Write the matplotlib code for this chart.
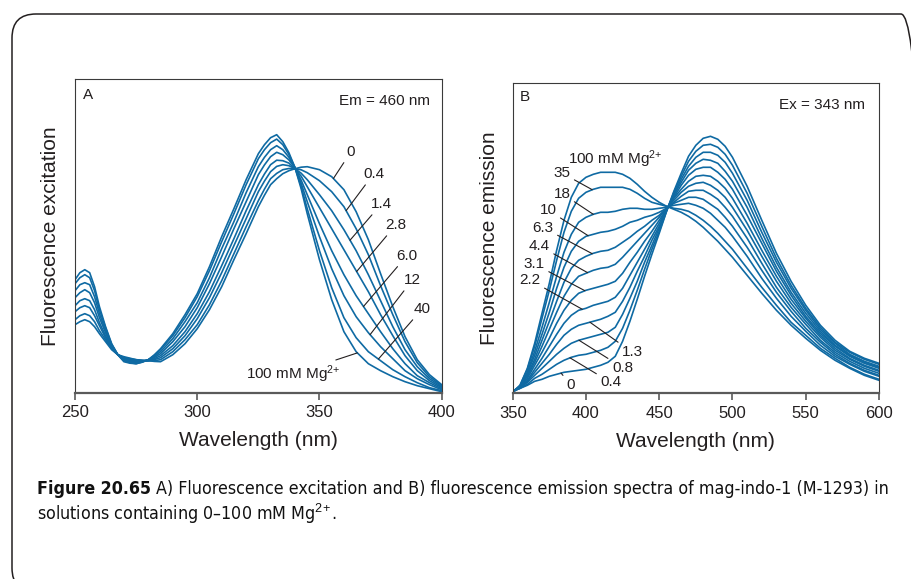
import numpy as np
import matplotlib.pyplot as plt
from matplotlib.patches import FancyBboxPatch
from matplotlib.transforms import IdentityTransform

plt.rcParams['font.family'] = ['Liberation Sans', 'DejaVu Sans']
plt.rcParams['mathtext.fontset'] = 'custom'
plt.rcParams['mathtext.rm'] = 'Liberation Sans'
plt.rcParams['mathtext.it'] = 'Liberation Sans:italic'
plt.rcParams['mathtext.bf'] = 'Liberation Sans:bold'

LINE = '#0f6aa3'
INK = '#231f20'

# ---- panel A: excitation spectra (Em = 460 nm) ----
exc_wl = [250, 252, 254, 256, 258, 260, 262.5, 265, 267.5, 270, 272.5, 275, 277.5, 280, 282.5, 285,
          290, 295, 300, 305, 310, 315, 320, 325, 327.5, 330, 332.5, 335, 337.5, 340, 342.5, 345,
          350, 355, 360, 365, 370, 375, 380, 385, 390, 395, 400]
exc_mg = ['0', '0.4', '1.4', '2.8', '6.0', '12', '40', '100']
exc_0 = [68, 71, 73, 71, 66, 59, 51, 43, 38, 36, 34.5, 33, 32.5, 32, 31.3, 31,
         38, 49, 64, 83, 106, 133, 159, 186, 197.5, 208, 214, 219, 222, 224, 225.5, 226,
         223, 216, 203, 181, 153, 119, 86, 56, 33, 18, 8]
exc_04 = [73, 77, 79, 77, 71, 62, 53, 44, 38, 35, 34, 33, 32.3, 32, 32.1, 33,
          41, 53, 68, 88, 112, 139, 166, 192, 203.6, 214, 219.3, 223, 224.2, 224, 222.9, 220,
          212, 201, 186, 164, 138, 107, 78, 51, 30, 16, 7]
exc_14 = [81, 85, 87, 85, 77, 67, 55, 45, 38, 35, 33, 32, 31.9, 32, 33.2, 35,
          44, 57, 74, 95, 120, 147, 174, 201, 211.6, 221, 226.3, 228, 227, 224, 219.5, 213,
          198, 182, 163, 142, 118, 92, 66, 43, 26, 14, 6]
exc_28 = [87, 92, 94, 92, 83, 70, 57, 46, 38, 34, 32.4, 31, 31.7, 32, 34.1, 37,
          47, 61, 79, 101, 127, 154, 182, 208, 218.7, 228, 232.5, 232, 229.6, 224, 216.5, 206,
          185, 164, 143, 122, 101, 78, 57, 37, 22, 12, 5]
exc_60 = [95, 100, 103, 100, 90, 75, 60, 47, 38, 33, 31.5, 31, 31.3, 33, 35.3, 39,
          51, 66, 85, 109, 136, 164, 191, 218, 227.8, 236, 240.4, 238, 232.8, 225, 212.6, 198,
          169, 142, 118, 97, 79, 61, 44, 29, 17, 10, 4]
exc_12 = [102, 108, 110, 108, 96, 79, 62, 48, 38, 32, 31, 30, 31, 33, 36.3, 41,
          54, 71, 90, 115, 144, 171, 200, 226, 235.4, 243, 247, 243, 235.5, 225, 209.4, 191,
          156, 124, 97, 76, 60, 46, 34, 22, 14, 8, 3]
exc_40 = [109, 115, 118, 115, 102, 83, 65, 48, 38, 32, 30, 29, 30.7, 33, 37.3, 43,
          57, 75, 96, 122, 151, 179, 208, 234, 243, 250, 253.6, 248, 238.2, 225, 206.2, 184,
          142, 105, 75, 55, 41, 32, 23, 16, 10, 5, 2]
exc_100 = [113, 120, 123, 120, 106, 86, 66, 49, 38, 31, 29.5, 29, 30.5, 33, 38, 44,
           59, 78, 99, 126, 156, 184, 213, 239, 248, 255, 258, 251, 240, 225, 204, 179,
           133, 93, 61, 41, 29, 22, 16, 11, 7, 4, 1]
exc_curves = [exc_0, exc_04, exc_14, exc_28, exc_60, exc_12, exc_40, exc_100]

# ---- panel B: emission spectra (Ex = 343 nm) ----
em_wl = np.concatenate([np.arange(350, 501, 5), np.arange(510, 601, 10)])
em_mg = ['0', '0.4', '0.8', '1.3', '2.2', '3.1', '4.4', '6.3', '10', '18', '35', '100']
em_0 = [2, 5, 8, 12, 14, 17, 19, 21, 22, 23, 24, 26, 28, 31, 37, 52, 72, 94, 117, 139,
        160, 182, 202, 220, 237, 248, 255, 257, 254, 247, 236, 207, 173, 140, 112, 88, 68, 53, 42, 35, 30]
em_04 = [2, 5, 9, 15, 19, 24, 29, 33, 36, 38, 39, 41, 43, 46, 52, 65, 83, 103, 124, 144,
         162, 182, 201, 217, 232, 242, 248, 249, 246, 239, 228, 200, 167, 135, 108, 85, 66, 51, 41, 34, 29]
em_08 = [2, 5, 11, 18, 25, 32, 39, 45, 50, 53, 55, 57, 59, 61, 66, 79, 95, 112, 131, 148,
         165, 183, 199, 214, 227, 236, 241, 241, 238, 231, 220, 193, 161, 131, 105, 83, 64, 50, 39, 32, 27]
em_13 = [2, 6, 12, 21, 30, 39, 49, 58, 64, 68, 70, 72, 74, 77, 81, 92, 106, 122, 137, 153,
         167, 183, 198, 211, 223, 230, 234, 233, 230, 222, 212, 186, 155, 126, 101, 80, 62, 48, 38, 31, 26]
em_22 = [2, 6, 13, 24, 35, 47, 59, 70, 78, 83, 85, 88, 90, 92, 96, 105, 118, 131, 144, 157,
         170, 184, 196, 208, 218, 224, 226, 226, 221, 214, 204, 178, 150, 122, 98, 77, 60, 47, 37, 30, 25]
em_31 = [2, 6, 15, 28, 41, 55, 70, 83, 93, 100, 103, 105, 107, 109, 112, 120, 131, 141, 152, 162,
         173, 184, 195, 204, 212, 217, 218, 217, 212, 205, 195, 170, 143, 117, 94, 75, 58, 45, 35, 28, 23]
em_44 = [2, 7, 17, 31, 47, 64, 81, 97, 109, 117, 120, 123, 125, 126, 129, 136, 144, 152, 160, 168,
         176, 185, 193, 201, 207, 210, 211, 208, 203, 196, 186, 163, 137, 112, 90, 72, 56, 43, 34, 27, 22]
em_63 = [1, 7, 18, 34, 53, 72, 92, 111, 125, 133, 137, 140, 142, 143, 146, 151, 156, 162, 167, 173,
         178, 185, 191, 197, 202, 203, 203, 199, 194, 186, 177, 155, 130, 106, 86, 69, 53, 41, 32, 25, 20]
em_10 = [1, 7, 20, 38, 59, 81, 105, 126, 142, 152, 157, 159, 161, 162, 164, 167, 171, 173, 176, 178,
         181, 185, 190, 193, 196, 196, 194, 189, 184, 176, 167, 146, 123, 101, 82, 65, 51, 39, 30, 23, 18]
em_18 = [1, 7, 21, 42, 66, 91, 117, 141, 159, 171, 176, 179, 181, 181, 182, 184, 185, 185, 184, 184,
         185, 186, 188, 189, 190, 188, 185, 180, 173, 166, 157, 137, 115, 95, 77, 62, 48, 37, 29, 22, 17]
em_35 = [1, 8, 24, 47, 75, 103, 133, 161, 182, 195, 201, 204, 206, 206, 206, 206, 204, 200, 195, 191,
         189, 187, 185, 184, 182, 178, 173, 167, 160, 152, 144, 125, 106, 88, 71, 58, 45, 35, 26, 19, 14]
em_100 = [1, 8, 25, 50, 80, 110, 143, 173, 196, 210, 216, 219, 221, 221, 221, 219, 215, 209, 202, 196,
          191, 187, 184, 181, 177, 172, 166, 159, 152, 144, 136, 118, 100, 83, 68, 55, 43, 33, 25, 18, 13]
em_curves = [em_0, em_04, em_08, em_13, em_22, em_31, em_44, em_63, em_10, em_18, em_35, em_100]

# label placement: (text x, text y, wavelength where the leader meets the curve)
exc_labels = [(362.9, 241, 355.7), (372.1, 218.7, 360.9), (375.3, 188.7, 362.5), (381.2, 167.7, 365.2),
              (385.7, 136.9, 368.0), (388.0, 112.7, 370.7), (392.0, 83.7, 374.1), (339.3, 18.7, 365.5)]
em_labels = [(389.7, 8.3, 383.0), (417.0, 10.8, 389.1), (424.9, 25.8, 395.2), (431.8, 40.8, 402.7),
             (361.8, 113.3, 397.5), (364.7, 129.3, 399.3), (368.1, 147.5, 401.1), (370.7, 165.8, 404.3),
             (374.1, 183.3, 401.5), (383.6, 199.8, 405.0), (383.6, 220.3, 404.3), None]

MG = 'Mg$^{2\\!+}$'

W, H = 912, 579
fig = plt.figure(figsize=(W / 100, H / 100), dpi=100)

box = FancyBboxPatch((12, H - 592), 913, 578, boxstyle='round,pad=0,rounding_size=24',
                     transform=IdentityTransform(), fill=False, ec=INK, lw=1.1)
fig.patches.append(box)


def style_axes(ax, xlim, ylim, ticks, ylabel):
    ax.set_xlim(*xlim)
    ax.set_ylim(*ylim)
    ax.set_xticks(ticks)
    ax.set_yticks([])
    for s in ['left', 'top', 'right']:
        ax.spines[s].set_color('#3a3a3a')
        ax.spines[s].set_linewidth(0.8)
    ax.spines['bottom'].set_color('#5a5a5a')
    ax.spines['bottom'].set_linewidth(1.6)
    ax.tick_params(axis='x', direction='out', length=5, width=1.2, color='#5a5a5a',
                   labelsize=12, pad=4, labelcolor=INK)
    ax.set_xlabel('Wavelength (nm)', fontsize=15, color=INK, labelpad=8)
    ax.set_ylabel(ylabel, fontsize=15, color=INK)


def label_curve(ax, wl, curve, text, tx, ty, at):
    ax.annotate(text, xy=(at, np.interp(at, wl, curve)), xytext=(tx, ty),
                ha='center', va='center', fontsize=11, color=INK,
                arrowprops=dict(arrowstyle='-', color=INK, lw=0.8, shrinkA=1, shrinkB=0))


# panel A
axA = fig.add_axes([75 / W, 1 - 392.7 / H, 366.7 / W, 313.4 / H])
for c in exc_curves:
    axA.plot(exc_wl, c, color=LINE, lw=1.2, solid_joinstyle='round')
style_axes(axA, (250, 400), (0, 313.4), [250, 300, 350, 400], 'Fluorescence excitation')
for mg, c, pos in zip(exc_mg, exc_curves, exc_labels):
    txt = '100 mM ' + MG if mg == '100' else mg
    label_curve(axA, exc_wl, c, txt, *pos)
axA.text(0.022, 0.95, 'A', transform=axA.transAxes, fontsize=11, ha='left', va='center', color=INK)
axA.text(0.968, 0.932, 'Em = 460 nm', transform=axA.transAxes, fontsize=11, ha='right', va='center',
         color=INK)

# panel B
axB = fig.add_axes([512.7 / W, 1 - 393.3 / H, 366.3 / W, 310.6 / H])
for c in em_curves:
    axB.plot(em_wl, c, color=LINE, lw=1.2, solid_joinstyle='round')
style_axes(axB, (350, 600), (0, 310.6), [350, 400, 450, 500, 550, 600], 'Fluorescence emission')
for mg, c, pos in zip(em_mg, em_curves, em_labels):
    if pos is not None:
        label_curve(axB, em_wl, c, mg, *pos)
axB.text(420, 234.5, '100 mM ' + MG, fontsize=11, ha='center', va='center', color=INK)
axB.text(0.02, 0.954, 'B', transform=axB.transAxes, fontsize=11, ha='left', va='center', color=INK)
axB.text(0.962, 0.928, 'Ex = 343 nm', transform=axB.transAxes, fontsize=11, ha='right', va='center',
         color=INK)

axA.yaxis.set_label_coords(-0.040, 0.5)
axB.yaxis.set_label_coords(-0.038, 0.5)

# caption, sized so the first line spans the same width as the reference
cap_font = ['Liberation Sans Narrow', 'DejaVu Sans']
cap_kw = dict(family=cap_font, stretch='condensed', va='baseline', color='#111111')
t1 = fig.text(37 / W, 1 - 494 / H, 'Figure 20.65', fontsize=13.5, fontweight='bold', **cap_kw)
t2 = fig.text(0, 1 - 494 / H,
              'A) Fluorescence excitation and B) fluorescence emission spectra of mag-indo-1 (M-1293) in',
              fontsize=13.5, **cap_kw)
t3 = fig.text(37 / W, 1 - 520 / H, 'solutions containing 0\u2013100 mM ' + MG + '.',
              fontsize=13.5, **cap_kw)
fig.canvas.draw()
r = fig.canvas.get_renderer()
w1 = t1.get_window_extent(r).width
w2 = t2.get_window_extent(r).width
scale = (888 - 37) / (w1 + 5 + w2)
for t in (t1, t2, t3):
    t.set_fontsize(13.5 * scale)
fig.canvas.draw()
bb = t1.get_window_extent(r)
t2.set_x((bb.x1 + 5 * scale) / W)

fig.savefig('out.png', dpi=100)
